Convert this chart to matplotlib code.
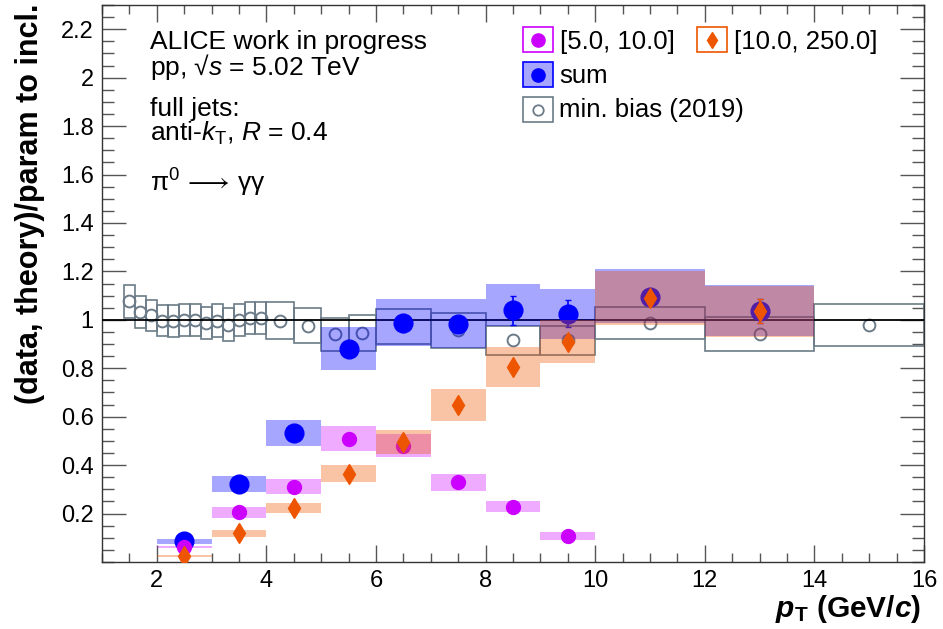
import matplotlib
matplotlib.use('Agg')
import matplotlib.pyplot as plt
from matplotlib.patches import Rectangle
from matplotlib.ticker import MultipleLocator
import numpy as np

plt.rcParams['font.family'] = ['Liberation Sans', 'DejaVu Sans']
plt.rcParams['mathtext.fontset'] = 'custom'
plt.rcParams['mathtext.rm'] = 'Liberation Sans'
plt.rcParams['mathtext.it'] = 'Liberation Sans:italic'
plt.rcParams['mathtext.bf'] = 'Liberation Sans:bold'
plt.rcParams['mathtext.bfit'] = 'Liberation Sans:italic:bold'

# min. bias (2019) reference, pT bins
mb_lo = [1.4, 1.6, 1.8, 2.0, 2.2, 2.4, 2.6, 2.8, 3.0, 3.2, 3.4, 3.6, 3.8,
         4.0, 4.5, 5.0, 5.5, 6.0, 7.0, 8.0, 9.0, 10.0, 12.0, 14.0]
mb_hi = [1.6, 1.8, 2.0, 2.2, 2.4, 2.6, 2.8, 3.0, 3.2, 3.4, 3.6, 3.8, 4.0,
         4.5, 5.0, 5.5, 6.0, 7.0, 8.0, 9.0, 10.0, 12.0, 14.0, 16.0]
mb_val = [1.076, 1.034, 1.018, 0.997, 0.997, 1.000, 1.000, 0.988, 0.997, 0.979, 1.000, 1.008,
          1.007, 0.997, 0.976, 0.941, 0.946, 0.973, 0.957, 0.915, 0.915, 0.986, 0.940, 0.979]
mb_sys = [0.069, 0.066, 0.066, 0.064, 0.066, 0.067, 0.065, 0.067, 0.069, 0.068, 0.065, 0.067,
          0.066, 0.076, 0.073, 0.068, 0.075, 0.073, 0.072, 0.061, 0.061, 0.066, 0.070, 0.085]

# jet-triggered bins
bin_lo = [2, 3, 4, 5, 6, 7, 8, 9, 10, 12]
bin_hi = [3, 4, 5, 6, 7, 8, 9, 10, 12, 14]

sum_val = [0.086, 0.322, 0.534, 0.880, 0.988, 0.981, 1.039, 1.025, 1.095, 1.036]
sum_stat = [0.005, 0.005, 0.008, 0.010, 0.020, 0.025, 0.060, 0.055, 0.020, 0.050]
sum_sys_up = [0.010, 0.032, 0.053, 0.090, 0.098, 0.105, 0.108, 0.101, 0.114, 0.109]
sum_sys_dn = [0.010, 0.032, 0.053, 0.087, 0.097, 0.097, 0.063, 0.104, 0.107, 0.104]

low_val = [0.062, 0.205, 0.311, 0.510, 0.481, 0.329, 0.228, 0.108]
low_stat = [0.004, 0.004, 0.005, 0.006, 0.008, 0.008, 0.012, 0.010]
low_sys = [0.006, 0.022, 0.032, 0.052, 0.049, 0.035, 0.023, 0.017]

high_val = [0.025, 0.118, 0.223, 0.365, 0.497, 0.647, 0.806, 0.910, 1.090, 1.036]
high_stat = [0.010, 0.005, 0.005, 0.008, 0.010, 0.010, 0.015, 0.020, 0.020, 0.050]
high_sys = [0.003, 0.013, 0.022, 0.036, 0.049, 0.066, 0.082, 0.090, 0.110, 0.105]

c_sum = '#0000ff'
c_low = '#cc00ff'
c_high = '#ee5500'
c_mb = '#6b7b88'

fig = plt.figure(figsize=(9.43, 6.29), dpi=100)
ax = fig.add_axes([0.1082, 0.1065, 0.8717, 0.8855])
ax.set_xlim(1.0, 16.0)
ax.set_ylim(0.0, 2.3)


def sys_boxes(lo, hi, val, dn, up, **kw):
    for l, h, v, d, u in zip(lo, hi, val, dn, up):
        ax.add_patch(Rectangle((l, v - d), h - l, d + u, **kw))


# min bias: open boxes and open circles
sys_boxes(mb_lo, mb_hi, mb_val, mb_sys, mb_sys, fill=False, ec=c_mb, lw=1.2, zorder=2)
mb_x = (np.array(mb_lo) + np.array(mb_hi)) / 2
ax.plot(mb_x, mb_val, ls='none', marker='o', ms=8.5, mfc='none', mec=c_mb, mew=1.4, zorder=3)

ax.axhline(1.0, color='black', lw=1.3, zorder=3)

x_c = (np.array(bin_lo) + np.array(bin_hi)) / 2
n_low = len(low_val)

# sum
sys_boxes(bin_lo, bin_hi, sum_val, sum_sys_dn, sum_sys_up, color=c_sum, alpha=0.35, lw=0, zorder=4)
ax.errorbar(x_c, sum_val, yerr=sum_stat, ls='none', marker='o', ms=13.5, color=c_sum,
            elinewidth=1.2, capsize=2, zorder=5)

# [5.0, 10.0]
sys_boxes(bin_lo[:n_low], bin_hi[:n_low], low_val, low_sys, low_sys, color=c_low, alpha=0.33, lw=0, zorder=6)
ax.errorbar(x_c[:n_low], low_val, yerr=low_stat, ls='none', marker='o', ms=10, color=c_low,
            elinewidth=1.2, capsize=2, zorder=7)

# [10.0, 250.0]
sys_boxes(bin_lo, bin_hi, high_val, high_sys, high_sys, color=c_high, alpha=0.35, lw=0, zorder=8)
ax.errorbar(x_c, high_val, yerr=high_stat, ls='none', marker='d', ms=10, color=c_high,
            elinewidth=1.2, capsize=2, zorder=9)

# axes style
ax.xaxis.set_major_locator(MultipleLocator(2))
ax.xaxis.set_minor_locator(MultipleLocator(0.5))
ax.yaxis.set_major_locator(MultipleLocator(0.2))
ax.yaxis.set_minor_locator(MultipleLocator(0.05))
ax.tick_params(which='both', direction='in', top=True, right=True, color='#555555', width=1.0,
               labelsize=17, pad=6)
ax.tick_params(axis='y', which='major', length=17)
ax.tick_params(axis='y', which='minor', length=8.5)
ax.tick_params(axis='x', which='major', length=12)
ax.tick_params(axis='x', which='minor', length=6.5)
ax.set_yticks([0.2, 0.4, 0.6, 0.8, 1.0, 1.2, 1.4, 1.6, 1.8, 2.0, 2.2])
ax.set_yticklabels(['0.2', '0.4', '0.6', '0.8', '1', '1.2', '1.4', '1.6', '1.8', '2', '2.2'])
ax.set_xticks([2, 4, 6, 8, 10, 12, 14, 16])
for s in ax.spines.values():
    s.set_color('#333333')
    s.set_linewidth(1.0)

fig.text(0.032, 0.994, '(data, theory)/param to incl.', rotation=90, ha='center', va='top',
         fontsize=22, fontweight='bold')
fig.text(0.977, 0.032, r'$\mathbfit{p}_{\mathbf{T}}$ (GeV/$\mathbfit{c}$)', ha='right', va='center',
         fontsize=21.5, fontweight='bold')


def px(x, y):
    # figure pixel -> axes fraction
    return (x - 102) / 822.0, (562 - y) / 557.0


txt_size = 19
for label, y in [('ALICE work in progress', 49), (r'pp, √$s$ = 5.02 TeV', 75),
                 ('full jets:', 116), (r'anti-$k_{\mathrm{T}}$, $R$ = 0.4', 141),
                 (r'$\mathrm{\pi}^{0}\,\longrightarrow\,\mathrm{\gamma\gamma}$', 192)]:
    ax.text(*px(150, y), label, transform=ax.transAxes, fontsize=txt_size, va='baseline', ha='left')

# legend
leg_size = 18.5
legend_items = [
    (523, 27, c_low, 'none', dict(marker='o', ms=9.5, color=c_low), '[5.0, 10.0]', 560, 49),
    (697, 27, c_high, 'none', dict(marker='d', ms=8, color=c_high), '[10.0, 250.0]', 734, 49),
    (523, 62, c_sum, (0.65, 0.65, 1.0), dict(marker='o', ms=9.5, color=c_sum), 'sum', 559, 83),
    (523, 97, c_mb, 'none', dict(marker='o', ms=7.5, mfc='white', mec=c_mb, mew=1.3), 'min. bias (2019)', 559, 117),
]
for bx, by, ec, fc, mk, label, tx, ty in legend_items:
    x0, y1 = px(bx, by)
    x1, y0 = px(bx + 30, by + 25)
    ax.add_patch(Rectangle((x0, y0), x1 - x0, y1 - y0, transform=ax.transAxes, ec=ec,
                           fc='white' if fc == 'none' else fc, lw=1.2, zorder=20))
    ax.plot([(x0 + x1) / 2], [(y0 + y1) / 2], transform=ax.transAxes, ls='none', zorder=21, **mk)
    ax.text(*px(tx, ty), label, transform=ax.transAxes, fontsize=leg_size, va='baseline', ha='left')

fig.savefig('out.png', dpi=100)
